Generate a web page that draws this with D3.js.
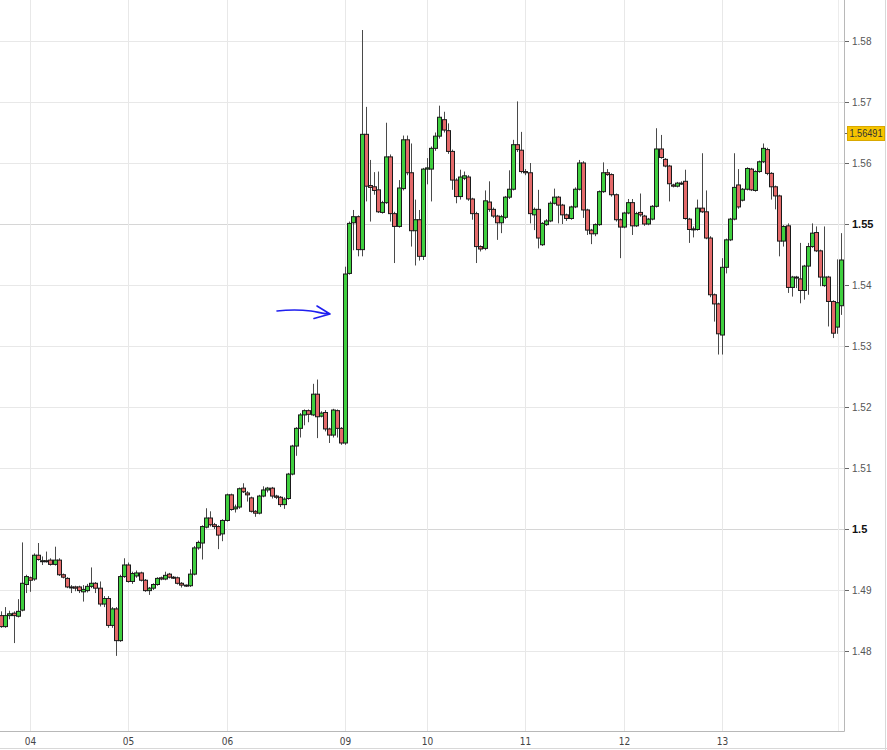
<!DOCTYPE html>
<html lang="en">
<head>
    <meta charset="utf-8">
    <title>candles</title>
    <script type="text/javascript" src="https://cdnjs.cloudflare.com/ajax/libs/d3/7.8.5/d3.min.js"></script>
    <style>
      body { margin: 0; background: #fff; }
      text { font-family: "Liberation Sans", Arial, sans-serif; }
    </style>
</head>
<body>
    <script type="text/javascript">
      //hourly bars
      var opens = [
        1.4858,1.4840,1.4858,1.4862,1.4857,1.4867,1.4909,1.4920,1.4918,1.4957,
        1.4948,1.4948,1.4949,1.4942,1.4949,1.4925,1.4919,1.4905,1.4905,1.4905,
        1.4897,1.4899,1.4906,1.4911,1.4903,1.4877,1.4886,1.4842,1.4869,1.4817,
        1.4922,1.4941,1.4914,1.4923,1.4928,1.4916,1.4899,1.4903,1.4909,1.4920,
        1.4918,1.4926,1.4921,1.4920,1.4911,1.4908,1.4907,1.4926,1.4969,1.4977,
        1.5003,1.5018,1.5007,1.5004,1.4992,1.5014,1.5056,1.5033,1.5036,1.5067,
        1.5059,1.5051,1.5029,1.5026,1.5054,1.5064,1.5067,1.5054,1.5052,1.5040,
        1.5050,1.5090,1.5136,1.5165,1.5187,1.5194,1.5187,1.5221,1.5185,1.5191,
        1.5164,1.5154,1.5194,1.5165,1.5141,1.5419,1.5502,1.5512,1.5458,1.5647,
        1.5563,1.5561,1.5556,1.5519,1.5535,1.5610,1.5517,1.5496,1.5558,1.5638,
        1.5584,1.5489,1.5507,1.5447,1.5590,1.5590,1.5624,1.5644,1.5671,1.5653,
        1.5619,1.5572,1.5545,1.5575,1.5577,1.5541,1.5517,1.5463,1.5460,1.5536,
        1.5524,1.5513,1.5502,1.5511,1.5544,1.5557,1.5630,1.5621,1.5586,1.5584,
        1.5515,1.5524,1.5466,1.5499,1.5505,1.5534,1.5544,1.5531,1.5515,1.5509,
        1.5528,1.5557,1.5600,1.5523,1.5490,1.5484,1.5499,1.5553,1.5584,1.5581,
        1.5548,1.5507,1.5495,1.5518,1.5535,1.5497,1.5519,1.5513,1.5500,1.5508,
        1.5529,1.5623,1.5606,1.5595,1.5564,1.5562,1.5567,1.5570,1.5508,1.5492,
        1.5491,1.5526,1.5520,1.5477,1.5384,1.5369,1.5318,1.5429,1.5474,1.5508,
        1.5564,1.5539,1.5557,1.5590,1.5555,1.5586,1.5602,1.5622,1.5583,1.5561,
        1.5546,1.5472,1.5497,1.5396,1.5413,1.5410,1.5391,1.5431,1.5463,1.5486,
        1.5456,1.5399,1.5413,1.5373,1.5331,1.5366];

      var highs = [
        1.4865,1.4872,1.4866,1.4865,1.4885,1.4978,1.4925,1.4922,1.4960,1.4977,
        1.4955,1.4963,1.4952,1.4971,1.4952,1.4927,1.4921,1.4908,1.4907,1.4907,
        1.4908,1.4910,1.4937,1.4913,1.4914,1.4890,1.4890,1.4872,1.4872,1.4925,
        1.4952,1.4945,1.4930,1.4932,1.4930,1.4918,1.4905,1.4911,1.4921,1.4922,
        1.4930,1.4928,1.4923,1.4922,1.4913,1.4909,1.4934,1.4972,1.4981,1.5006,
        1.5034,1.5029,1.5010,1.5006,1.5016,1.5058,1.5058,1.5040,1.5068,1.5075,
        1.5062,1.5053,1.5031,1.5056,1.5070,1.5069,1.5069,1.5056,1.5054,1.5052,
        1.5092,1.5138,1.5167,1.5190,1.5196,1.5196,1.5238,1.5245,1.5193,1.5195,
        1.5166,1.5197,1.5196,1.5167,1.5430,1.5504,1.5523,1.5514,1.5818,1.5692,
        1.5605,1.5585,1.5586,1.5538,1.5666,1.5614,1.5520,1.5572,1.5645,1.5645,
        1.5632,1.5540,1.5523,1.5592,1.5608,1.5627,1.5650,1.5694,1.5684,1.5665,
        1.5622,1.5575,1.5589,1.5586,1.5580,1.5543,1.5520,1.5465,1.5555,1.5570,
        1.5527,1.5515,1.5515,1.5546,1.5588,1.5638,1.5701,1.5651,1.5590,1.5600,
        1.5527,1.5556,1.5503,1.5508,1.5537,1.5558,1.5546,1.5533,1.5517,1.5530,
        1.5560,1.5605,1.5603,1.5525,1.5492,1.5501,1.5555,1.5601,1.5590,1.5583,
        1.5550,1.5509,1.5520,1.5541,1.5541,1.5520,1.5550,1.5515,1.5510,1.5531,
        1.5657,1.5646,1.5608,1.5597,1.5566,1.5569,1.5570,1.5589,1.5510,1.5496,
        1.5540,1.5616,1.5555,1.5480,1.5386,1.5371,1.5444,1.5476,1.5510,1.5616,
        1.5590,1.5559,1.5593,1.5592,1.5588,1.5604,1.5632,1.5625,1.5585,1.5563,
        1.5548,1.5498,1.5501,1.5415,1.5415,1.5469,1.5433,1.5469,1.5501,1.5496,
        1.5458,1.5496,1.5415,1.5375,1.5442,1.5485];

      var lows = [
        1.4838,1.4838,1.4852,1.4813,1.4855,1.4865,1.4895,1.4897,1.4915,1.4948,
        1.4941,1.4945,1.4940,1.4940,1.4923,1.4919,1.4903,1.4895,1.4898,1.4895,
        1.4881,1.4896,1.4903,1.4895,1.4873,1.4872,1.4838,1.4838,1.4792,1.4815,
        1.4920,1.4912,1.4910,1.4920,1.4914,1.4897,1.4892,1.4900,1.4907,1.4916,
        1.4916,1.4919,1.4918,1.4909,1.4904,1.4905,1.4905,1.4924,1.4966,1.4950,
        1.5001,1.5004,1.5000,1.4967,1.4980,1.5012,1.5030,1.5027,1.5033,1.5059,
        1.5045,1.5027,1.5020,1.5024,1.5052,1.5060,1.5050,1.5049,1.5036,1.5033,
        1.5048,1.5088,1.5120,1.5150,1.5170,1.5175,1.5185,1.5149,1.5183,1.5160,
        1.5141,1.5150,1.5150,1.5138,1.5138,1.5417,1.5457,1.5447,1.5447,1.5537,
        1.5504,1.5548,1.5518,1.5517,1.5533,1.5504,1.5436,1.5494,1.5555,1.5580,
        1.5463,1.5432,1.5440,1.5441,1.5565,1.5537,1.5620,1.5640,1.5650,1.5615,
        1.5556,1.5534,1.5540,1.5572,1.5538,1.5507,1.5436,1.5455,1.5457,1.5520,
        1.5510,1.5474,1.5485,1.5508,1.5541,1.5555,1.5618,1.5583,1.5580,1.5501,
        1.5490,1.5460,1.5464,1.5497,1.5503,1.5532,1.5501,1.5500,1.5505,1.5507,
        1.5526,1.5555,1.5510,1.5482,1.5467,1.5480,1.5497,1.5551,1.5579,1.5545,
        1.5504,1.5444,1.5493,1.5516,1.5482,1.5495,1.5512,1.5497,1.5498,1.5506,
        1.5527,1.5607,1.5593,1.5537,1.5560,1.5560,1.5564,1.5507,1.5469,1.5478,
        1.5489,1.5518,1.5475,1.5380,1.5340,1.5286,1.5286,1.5419,1.5472,1.5506,
        1.5525,1.5537,1.5555,1.5554,1.5553,1.5584,1.5600,1.5580,1.5540,1.5524,
        1.5447,1.5463,1.5387,1.5381,1.5395,1.5370,1.5376,1.5384,1.5461,1.5454,
        1.5398,1.5397,1.5332,1.5313,1.5320,1.5351];

      var closes = [
        1.4840,1.4858,1.4861,1.4858,1.4865,1.4911,1.4922,1.4916,1.4957,1.4950,
        1.4948,1.4947,1.4942,1.4949,1.4925,1.4921,1.4905,1.4904,1.4903,1.4899,
        1.4901,1.4906,1.4911,1.4903,1.4877,1.4886,1.4842,1.4869,1.4817,1.4922,
        1.4941,1.4914,1.4927,1.4928,1.4916,1.4899,1.4903,1.4909,1.4919,1.4918,
        1.4924,1.4921,1.4920,1.4911,1.4908,1.4907,1.4926,1.4969,1.4978,1.5004,
        1.5018,1.5007,1.5004,1.4990,1.5014,1.5056,1.5032,1.5036,1.5066,1.5061,
        1.5056,1.5029,1.5026,1.5054,1.5064,1.5067,1.5054,1.5052,1.5040,1.5049,
        1.5090,1.5136,1.5165,1.5187,1.5194,1.5188,1.5221,1.5184,1.5190,1.5164,
        1.5154,1.5195,1.5165,1.5141,1.5418,1.5501,1.5512,1.5458,1.5647,1.5562,
        1.5560,1.5555,1.5520,1.5535,1.5610,1.5517,1.5496,1.5559,1.5638,1.5584,
        1.5489,1.5507,1.5447,1.5590,1.5592,1.5624,1.5644,1.5675,1.5654,1.5619,
        1.5572,1.5545,1.5577,1.5579,1.5541,1.5517,1.5463,1.5459,1.5538,1.5524,
        1.5513,1.5502,1.5512,1.5544,1.5557,1.5630,1.5622,1.5586,1.5584,1.5517,
        1.5524,1.5477,1.5501,1.5505,1.5534,1.5544,1.5531,1.5515,1.5509,1.5528,
        1.5557,1.5600,1.5523,1.5490,1.5484,1.5499,1.5553,1.5584,1.5581,1.5548,
        1.5507,1.5495,1.5518,1.5535,1.5497,1.5517,1.5515,1.5500,1.5508,1.5529,
        1.5623,1.5609,1.5595,1.5566,1.5562,1.5567,1.5566,1.5509,1.5491,1.5491,
        1.5526,1.5520,1.5477,1.5384,1.5369,1.5320,1.5429,1.5474,1.5508,1.5560,
        1.5528,1.5557,1.5591,1.5556,1.5586,1.5602,1.5624,1.5583,1.5561,1.5546,
        1.5472,1.5496,1.5396,1.5413,1.5412,1.5391,1.5431,1.5463,1.5485,1.5456,
        1.5413,1.5413,1.5373,1.5321,1.5371,1.5441];

      //day labels and the bar where each day starts
      var dayLabels = ["04", "05", "06", "09", "10", "11", "12", "13"];
      var dayStart = [7, 31, 55, 84, 104, 128, 152, 176];

      var priceTicks = [1.48, 1.49, 1.5, 1.51, 1.52, 1.53, 1.54, 1.55, 1.56, 1.57, 1.58];
      var boldTicks = [1.5, 1.55];
      var lastPrice = 1.56491;

      //initialize the dimensions
      var width = 887,
          height = 750,
          plotRight = 844,
          plotBottom = 731;

      var n = opens.length;

      var xScale = d3.scaleLinear()
                     .domain([0, n - 1])
                     .range([1.3, 1.3 + 4.095 * (n - 1)]);

      var yScale = d3.scaleLinear()
                     .domain([1.50 - 202 / 6100, 1.50 + 529 / 6100])
                     .range([plotBottom, 0]);

      var svg = d3.select("body")
                  .append("svg")
                  .attr("width", width)
                  .attr("height", height);

      svg.append("rect")
         .attr("width", width)
         .attr("height", height)
         .attr("fill", "#fff");

      //horizontal grid
      svg.append("g")
         .selectAll("line")
         .data(priceTicks)
         .enter()
         .append("line")
         .attr("x1", 0)
         .attr("x2", plotRight)
         .attr("y1", function(d) { return Math.round(yScale(d)) + 0.5; })
         .attr("y2", function(d) { return Math.round(yScale(d)) + 0.5; })
         .attr("stroke", function(d) { return boldTicks.indexOf(d) >= 0 ? "#d6d6d6" : "#e8e8e8"; });

      //vertical day grid
      svg.append("g")
         .selectAll("line")
         .data(dayStart)
         .enter()
         .append("line")
         .attr("x1", function(d) { return Math.round(xScale(d)) + 0.5; })
         .attr("x2", function(d) { return Math.round(xScale(d)) + 0.5; })
         .attr("y1", 0)
         .attr("y2", plotBottom)
         .attr("stroke", "#e8e8e8");

      //faint line near the right edge
      svg.append("line")
         .attr("x1", 838.5).attr("x2", 838.5)
         .attr("y1", 0).attr("y2", plotBottom)
         .attr("stroke", "#ececec");

      //candles
      var idx = d3.range(n);
      var candles = svg.append("g");

      candles.selectAll(".wick")
         .data(idx)
         .enter()
         .append("line")
         .attr("class", "wick")
         .attr("x1", function(i) { return Math.round(xScale(i)) + 0.5; })
         .attr("x2", function(i) { return Math.round(xScale(i)) + 0.5; })
         .attr("y1", function(i) { return yScale(highs[i]); })
         .attr("y2", function(i) { return yScale(lows[i]); })
         .attr("stroke", "#4a4a4a")
         .attr("stroke-width", 1);

      candles.selectAll(".body")
         .data(idx)
         .enter()
         .append("rect")
         .attr("class", "body")
         .attr("x", function(i) { return Math.round(xScale(i)) - 1.5; })
         .attr("width", 4)
         .attr("y", function(i) { return yScale(Math.max(opens[i], closes[i])); })
         .attr("height", function(i) {
            return Math.max(1, Math.abs(yScale(opens[i]) - yScale(closes[i])));
         })
         .attr("fill", function(i) { return closes[i] >= opens[i] ? "#3fcf3f" : "#e46a6a"; })
         .attr("stroke", "#1a1a1a")
         .attr("stroke-width", 1);

      //plot frame
      svg.append("line")
         .attr("x1", plotRight + 0.5).attr("x2", plotRight + 0.5)
         .attr("y1", 0).attr("y2", plotBottom + 0.5)
         .attr("stroke", "#b8b8b8");
      svg.append("line")
         .attr("x1", 0).attr("x2", plotRight + 0.5)
         .attr("y1", plotBottom + 0.5).attr("y2", plotBottom + 0.5)
         .attr("stroke", "#b8b8b8");

      //outer edge lines
      svg.append("line")
         .attr("x1", 885.5).attr("x2", 885.5)
         .attr("y1", 0).attr("y2", height)
         .attr("stroke", "#d8d8d8");
      svg.append("line")
         .attr("x1", 0).attr("x2", width)
         .attr("y1", 748.5).attr("y2", 748.5)
         .attr("stroke", "#d8d8d8");

      //right price axis
      var yAxis = d3.axisRight(yScale)
                    .tickValues(priceTicks)
                    .tickSize(4)
                    .tickPadding(3)
                    .tickFormat(d3.format("~g"));

      var gy = svg.append("g")
                  .attr("transform", "translate(" + (plotRight + 1) + ",0)")
                  .call(yAxis);
      gy.select(".domain").remove();
      gy.selectAll(".tick line").attr("stroke", "#666");
      gy.selectAll(".tick text")
        .attr("fill", function(d) { return boldTicks.indexOf(d) >= 0 ? "#111" : "#555"; })
        .style("font-size", function(d) { return boldTicks.indexOf(d) >= 0 ? "11px" : "10px"; })
        .style("font-weight", function(d) { return boldTicks.indexOf(d) >= 0 ? "bold" : "normal"; })
        .style("font-family", "'Liberation Sans', Arial, sans-serif");

      //last price tag
      var yLast = Math.round(yScale(lastPrice));
      svg.append("line")
         .attr("x1", plotRight + 1).attr("x2", plotRight + 4)
         .attr("y1", yLast + 0.5).attr("y2", yLast + 0.5)
         .attr("stroke", "#666");
      svg.append("rect")
         .attr("x", 847.5)
         .attr("y", yLast - 6.5)
         .attr("width", 37)
         .attr("height", 14)
         .attr("fill", "#f6c400")
         .attr("stroke", "#d9a800");
      svg.append("text")
         .attr("x", 849.5)
         .attr("y", yLast + 1)
         .attr("dominant-baseline", "middle")
         .attr("textLength", 33)
         .attr("lengthAdjust", "spacingAndGlyphs")
         .attr("fill", "#333")
         .style("font-size", "10px")
         .text(d3.format(".5f")(lastPrice));

      //bottom day labels
      svg.append("g")
         .selectAll("text")
         .data(dayStart)
         .enter()
         .append("text")
         .attr("x", function(d) { return Math.round(xScale(d)) + 0.5; })
         .attr("y", 742)
         .attr("text-anchor", "middle")
         .attr("dominant-baseline", "middle")
         .attr("fill", "#444")
         .style("font-size", "10px")
         .style("font-family", "'Liberation Sans Narrow', 'DejaVu Sans Condensed', sans-serif")
         .text(function(d, i) { return dayLabels[i]; });

      //hand drawn blue arrow pointing at the jump bar
      svg.append("path")
         .attr("d", "M277,311 C290,309.5 303,310 311,311 C318,312 324,314 330,314 M317,306 L330,314 L314,318.5")
         .attr("fill", "none")
         .attr("stroke", "#1f1fef")
         .attr("stroke-width", 1.6)
         .attr("stroke-linecap", "round")
         .attr("stroke-linejoin", "round");
    </script>
</body>
</html>
